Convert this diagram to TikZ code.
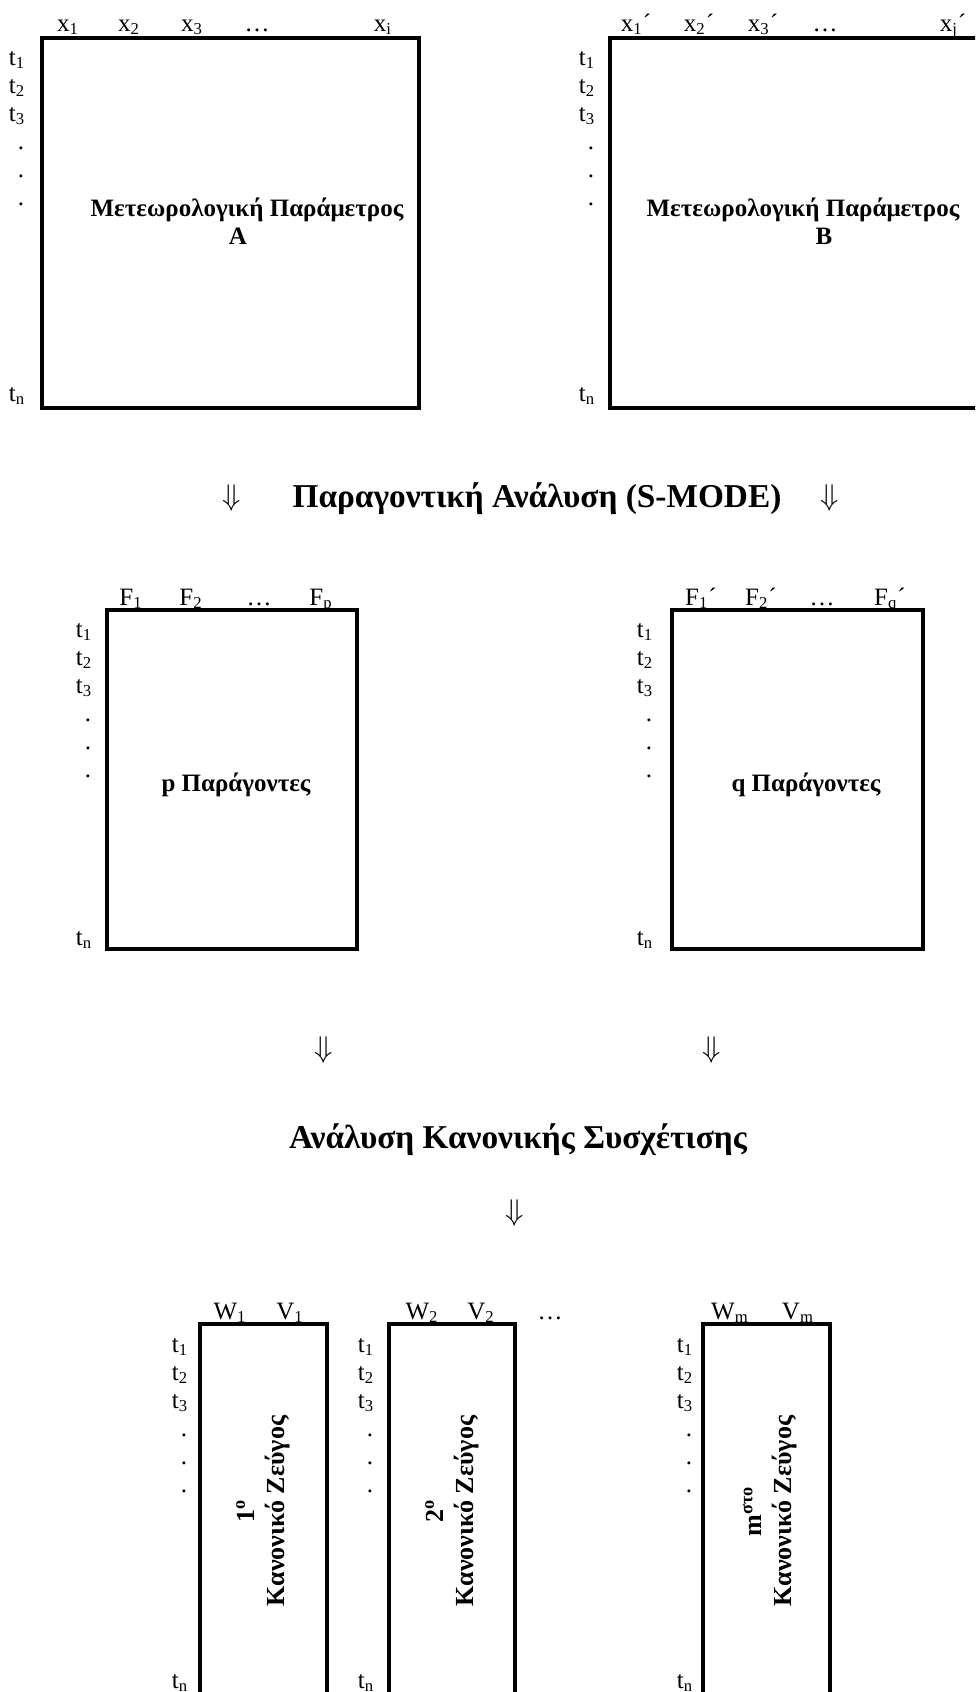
\documentclass[tikz,border=0pt]{standalone}
\usepackage{fontspec}
\setmainfont{Liberation Serif}

\begin{document}
\begin{tikzpicture}[x=0.48pt, y=-0.48pt,
  font=\fontsize{12}{14}\selectfont,
  box/.style={draw, line width=1.5pt},
  lab/.style={anchor=base, inner sep=0pt},
  arr/.style={anchor=base, inner sep=0pt, font=\fontsize{14}{16}\selectfont},
  ttl/.style={anchor=base, inner sep=0pt, font=\fontsize{12}{14}\selectfont\bfseries},
  rot/.style={rotate=90, align=center, inner sep=0pt, font=\fontsize{12.5}{14.4}\selectfont\bfseries},
  head/.style={anchor=base, inner sep=0pt, font=\fontsize{16}{19}\selectfont\bfseries}]

  \useasboundingbox (0,0) rectangle (975,1692);
  \clip (0,0) rectangle (975,1692);

  % matrices
  \draw[box] (42,38) rectangle (419,408);
  \draw[box] (610,38) rectangle (995,408);
  \draw[box] (107,610) rectangle (357,949);
  \draw[box] (672,610) rectangle (923,949);
  \draw[box] (200,1324) rectangle (327,1720);
  \draw[box] (389,1324) rectangle (515,1720);
  \draw[box] (703,1324) rectangle (830,1720);

  % column headers
  \node[lab] (A-x1) at (68,31) {x\textsubscript{1}};
  \node[lab] (A-x2) at (129,31) {x\textsubscript{2}};
  \node[lab] (A-x3) at (192,31) {x\textsubscript{3}};
  \node[lab] (A-dots) at (257,31) {\dots};
  \node[lab] (A-xi) at (383,31) {x\textsubscript{i}};

  \node[lab] (B-x1) at (636,31) {x\textsubscript{1}´};
  \node[lab] (B-x2) at (699,31) {x\textsubscript{2}´};
  \node[lab] (B-x3) at (763,31) {x\textsubscript{3}´};
  \node[lab] (B-dots) at (825,31) {\dots};
  \node[lab] (B-xj) at (953,31) {x\textsubscript{j}´};

  \node[lab] (P-f1) at (131,605) {F\textsubscript{1}};
  \node[lab] (P-f2) at (191,605) {F\textsubscript{2}};
  \node[lab] (P-dots) at (259,605) {\dots};
  \node[lab] (P-fp) at (321,605) {F\textsubscript{p}};

  \node[lab] (Q-f1) at (701,605) {F\textsubscript{1}´};
  \node[lab] (Q-f2) at (761,605) {F\textsubscript{2}´};
  \node[lab] (Q-dots) at (822,605) {\dots};
  \node[lab] (Q-fq) at (890,605) {F\textsubscript{q}´};

  \node[lab] (C1-w) at (230,1319) {W\textsubscript{1}};
  \node[lab] (C1-v) at (290,1319) {V\textsubscript{1}};
  \node[lab] (C2-w) at (422,1319) {W\textsubscript{2}};
  \node[lab] (C2-v) at (481,1319) {V\textsubscript{2}};
  \node[lab] (C-dots) at (550,1319) {\dots};
  \node[lab] (C3-w) at (730,1319) {W\textsubscript{m}};
  \node[lab] (C3-v) at (798,1319) {V\textsubscript{m}};

  % time rows
  \foreach \nm/\cx/\ty/\nn in {A/17/65/12, B/587/65/12, P/84/637/11, Q/645/637/11,
                              C1/180/1352/12, C2/366/1352/12, C3/685/1352/12}
  {
    \node[lab] (\nm-t1) at (\cx,\ty) {t\textsubscript{1}};
    \node[lab] (\nm-t2) at (\cx,\ty+28) {t\textsubscript{2}};
    \node[lab] (\nm-t3) at (\cx,\ty+56) {t\textsubscript{3}};
    \foreach \k in {3,4,5}
      \node[lab] (\nm-d\k) at (\cx+4,\ty+28*\k) {.};
    \node[lab] (\nm-tn) at (\cx,\ty+28*\nn) {t\textsubscript{n}};
  }

  % contents
  \node[ttl] (A-txt) at (247,216) {Μετεωρολογική Παράμετρος};
  \node[ttl] (A-lbl) at (238,244) {Α};
  \node[ttl] (B-txt) at (803,216) {Μετεωρολογική Παράμετρος};
  \node[ttl] (B-lbl) at (824,244) {Β};
  \node[ttl] (P-txt) at (236,791) {p Παράγοντες};
  \node[ttl] (Q-txt) at (806,791) {q Παράγοντες};
  \node[rot] (C1-txt) at (263,1511) {1\textsuperscript{ο}\\Κανονικό Ζεύγος};
  \node[rot] (C2-txt) at (452,1511) {2\textsuperscript{ο}\\Κανονικό Ζεύγος};
  \node[rot] (C3-txt) at (770,1511) {m\textsuperscript{στο}\\Κανονικό Ζεύγος};

  % steps
  \node[arr] (arr-1) at (232,505) {$\Downarrow$};
  \node[head] (fa) at (537,507) {Παραγοντική Ανάλυση (S-MODE)};
  \node[arr] (arr-2) at (830,505) {$\Downarrow$};
  \node[arr] (arr-P) at (324,1057) {$\Downarrow$};
  \node[arr] (arr-Q) at (712,1057) {$\Downarrow$};
  \node[head] (cca) at (518,1148) {Ανάλυση Κανονικής Συσχέτισης};
  \node[arr] (arr-C) at (515,1220) {$\Downarrow$};
\end{tikzpicture}
\end{document}
